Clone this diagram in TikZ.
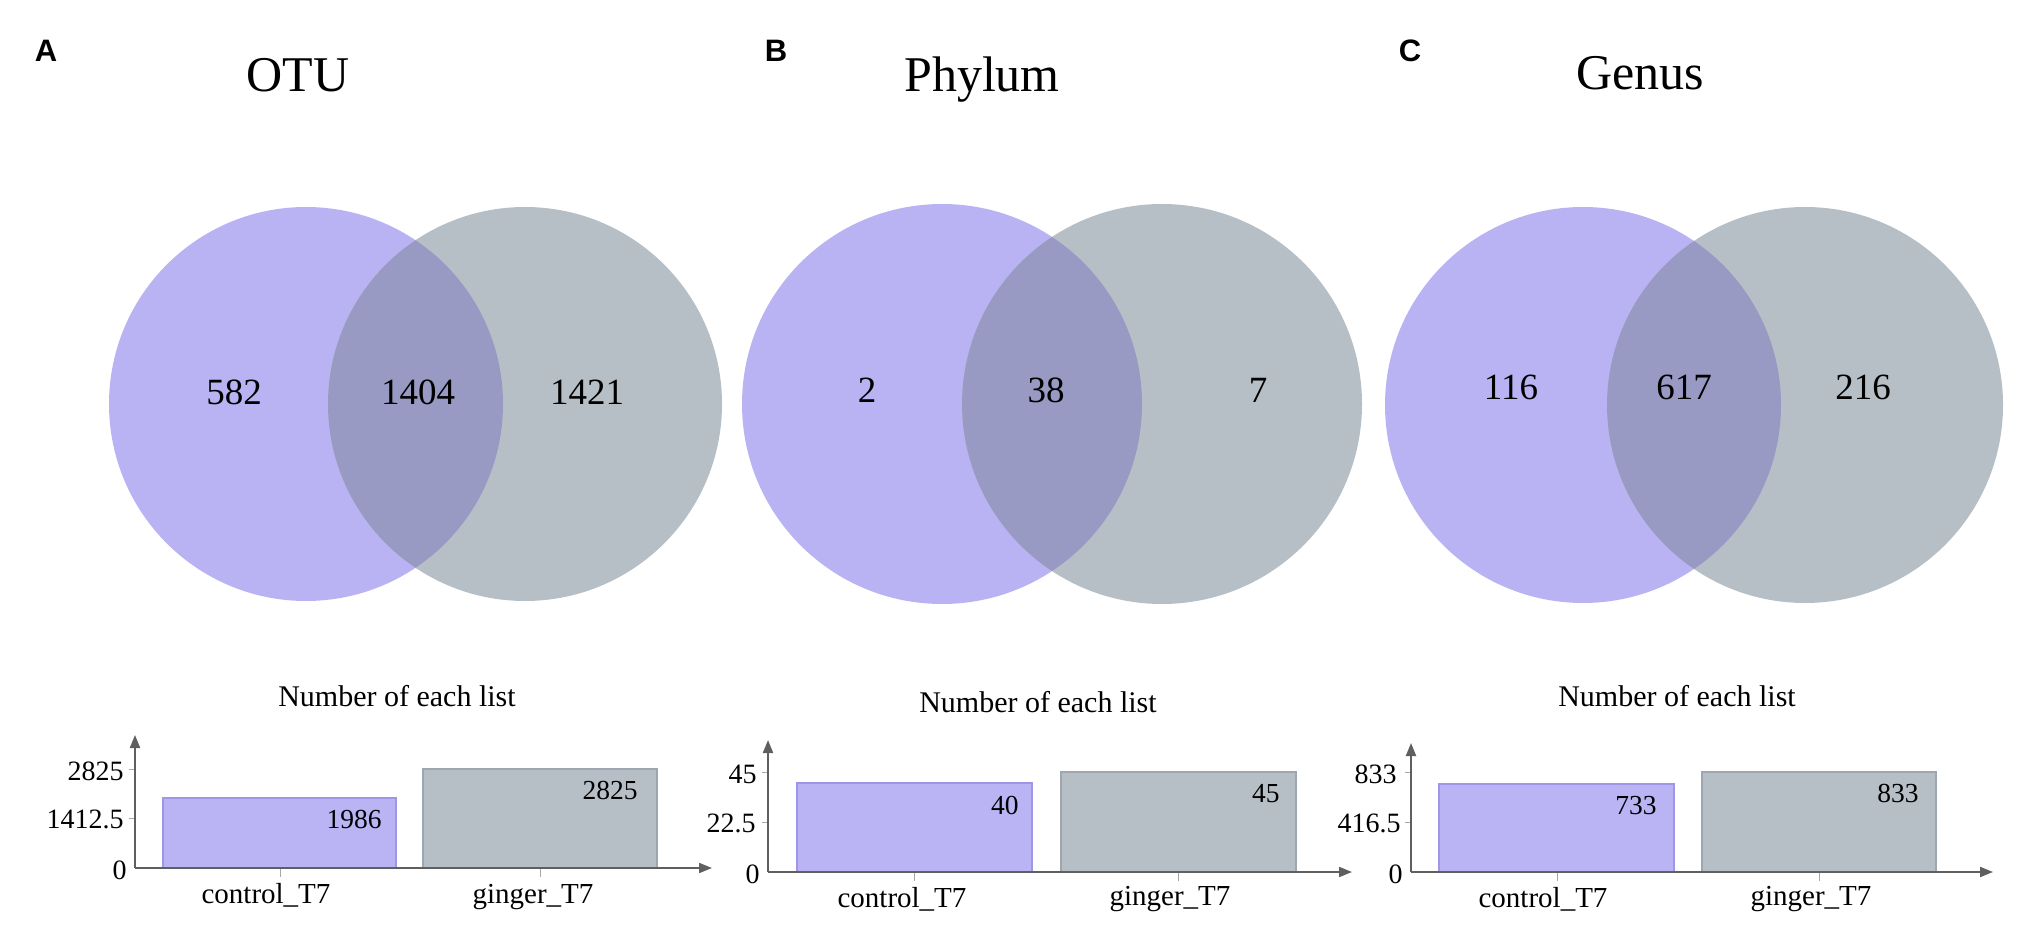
\documentclass[tikz,border=0pt]{standalone}
\usepackage{fontspec}
\setmainfont{Liberation Serif}
\newfontfamily\panelfont{Liberation Sans}
\usetikzlibrary{arrows.meta}
\definecolor{vpurple}{HTML}{B9B3F3}
\definecolor{vgray}{HTML}{B7BFC6}
\definecolor{vlens}{HTML}{989AC4}
\definecolor{bpurple}{HTML}{BAB4F4}
\definecolor{bpurpleedge}{HTML}{9E96E6}
\definecolor{bgray}{HTML}{B7BFC6}
\definecolor{bgrayedge}{HTML}{9EA7AF}
\definecolor{axisgray}{HTML}{5F5F5F}
\definecolor{tickgray}{HTML}{A8A8A8}
\tikzset{
 panel/.style={font=\panelfont\bfseries\fontsize{15.5}{16}\selectfont, inner sep=0pt},
 vtitle/.style={font=\fontsize{25}{26}\selectfont, inner sep=0pt, anchor=base},
 vnum/.style={font=\fontsize{18.5}{20}\selectfont, inner sep=0pt, anchor=base},
 btitle/.style={font=\fontsize{15}{16}\selectfont, inner sep=0pt, anchor=base},
 ticklab/.style={font=\fontsize{14}{15}\selectfont, inner sep=0pt, anchor=east},
 barval/.style={font=\fontsize{13.75}{15}\selectfont, inner sep=0pt, anchor=base east},
 catlab/.style={font=\fontsize{14.5}{16}\selectfont, inner sep=0pt, anchor=base},
 axisline/.style={draw=axisgray, line width=1pt, -{Triangle[length=6.5pt,width=5pt]}},
 barP/.style={fill=bpurple, draw=bpurpleedge, line width=0.6pt},
 barG/.style={fill=bgray, draw=bgrayedge, line width=0.6pt},
 tickmark/.style={draw=tickgray, line width=0.5pt},
}
\begin{document}
\begin{tikzpicture}[x=0.5pt,y=-0.5pt]
\useasboundingbox (0,0) rectangle (2033,929);

% ---------------- Panel A ----------------
\node[panel] (lA) at (46,51) {A};
\node[vtitle] (tA) at (298,92) {OTU};
\fill[vpurple] (306,404) circle[radius=98.5pt];
\fill[vgray] (525,404) circle[radius=98.5pt];
\begin{scope}
\clip (306,404) circle[radius=98.5pt];
\fill[vlens] (525,404) circle[radius=98.5pt];
\end{scope}
\node[vnum] (nA1) at (234,405) {582};
\node[vnum] (nA2) at (418,405) {1404};
\node[vnum] (nA3) at (587,405) {1421};

\node[btitle] (bA) at (397,706) {Number of each list};
\coordinate (Ao) at (135,868);
\coordinate (Ay) at (135,735);
\coordinate (Ax) at (712,868);
\draw[barP] (163,868) rectangle (396,798);
\draw[barG] (423,868) rectangle (657,769);
\draw[tickmark] (129,769) -- (135,769) (129,818.5) -- (135,818.5);
\draw[tickmark] (280,868) -- (280,877) (540,868) -- (540,877);
\draw[axisline] (Ao) -- (Ay);
\draw[axisline] (Ao) -- (Ax);
\node[ticklab] (kA1) at (124,771) {2825};
\node[ticklab] (kA2) at (124,819) {1412.5};
\node[ticklab] (kA3) at (127,870) {0};
\node[barval] (vA1) at (382,828) {1986};
\node[barval] (vA2) at (638,799) {2825};
\node[catlab] (cA1) at (266,903) {control\_T7};
\node[catlab] (cA2) at (533,903) {ginger\_T7};

% ---------------- Panel B ----------------
\node[panel] (lB) at (776,51) {B};
\node[vtitle] (tB) at (982,92) {Phylum};
\fill[vpurple] (942,404) circle[radius=100pt];
\fill[vgray] (1162,404) circle[radius=100pt];
\begin{scope}
\clip (942,404) circle[radius=100pt];
\fill[vlens] (1162,404) circle[radius=100pt];
\end{scope}
\node[vnum] (nB1) at (867,403) {2};
\node[vnum] (nB2) at (1046,403) {38};
\node[vnum] (nB3) at (1258,403) {7};

\node[btitle] (bB) at (1038,712) {Number of each list};
\coordinate (Bo) at (768,872);
\coordinate (By) at (768,740);
\coordinate (Bx) at (1352,872);
\draw[barP] (797,872) rectangle (1032,783);
\draw[barG] (1061,872) rectangle (1296,772);
\draw[tickmark] (762,772) -- (768,772) (762,822) -- (768,822);
\draw[tickmark] (914,872) -- (914,881) (1178,872) -- (1178,881);
\draw[axisline] (Bo) -- (By);
\draw[axisline] (Bo) -- (Bx);
\node[ticklab] (kB1) at (757,774) {45};
\node[ticklab] (kB2) at (756,823) {22.5};
\node[ticklab] (kB3) at (760,874) {0};
\node[barval] (vB1) at (1019,814) {40};
\node[barval] (vB2) at (1280,802) {45};
\node[catlab] (cB1) at (902,907) {control\_T7};
\node[catlab] (cB2) at (1170,905) {ginger\_T7};

% ---------------- Panel C ----------------
\node[panel] (lC) at (1410,51) {C};
\node[vtitle] (tC) at (1640,90) {Genus};
\fill[vpurple] (1583,405) circle[radius=99pt];
\fill[vgray] (1805,405) circle[radius=99pt];
\begin{scope}
\clip (1583,405) circle[radius=99pt];
\fill[vlens] (1805,405) circle[radius=99pt];
\end{scope}
\node[vnum] (nC1) at (1511,400) {116};
\node[vnum] (nC2) at (1684,400) {617};
\node[vnum] (nC3) at (1863,400) {216};

\node[btitle] (bC) at (1677,706) {Number of each list};
\coordinate (Co) at (1411,872);
\coordinate (Cy) at (1411,743);
\coordinate (Cx) at (1993,872);
\draw[barP] (1439,872) rectangle (1674,784);
\draw[barG] (1702,872) rectangle (1936,772);
\draw[tickmark] (1405,772) -- (1411,772) (1405,822) -- (1411,822);
\draw[tickmark] (1557,872) -- (1557,881) (1819,872) -- (1819,881);
\draw[axisline] (Co) -- (Cy);
\draw[axisline] (Co) -- (Cx);
\node[ticklab] (kC1) at (1397,774) {833};
\node[ticklab] (kC2) at (1401,823) {416.5};
\node[ticklab] (kC3) at (1403,874) {0};
\node[barval] (vC1) at (1657,814) {733};
\node[barval] (vC2) at (1919,802) {833};
\node[catlab] (cC1) at (1543,907) {control\_T7};
\node[catlab] (cC2) at (1811,905) {ginger\_T7};
\end{tikzpicture}
\end{document}
